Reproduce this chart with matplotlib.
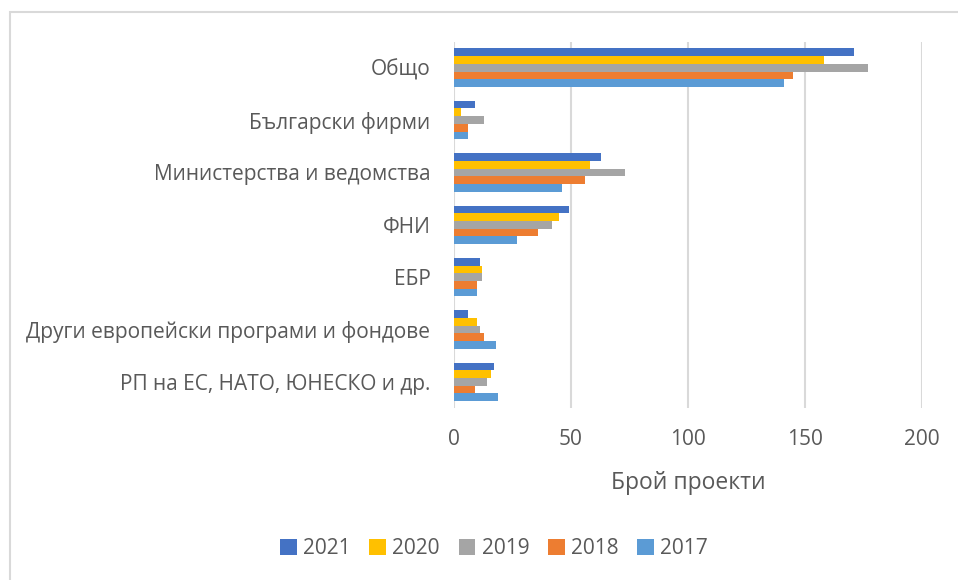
import matplotlib
matplotlib.use("Agg")
import matplotlib.pyplot as plt
import numpy as np
from matplotlib.patches import Rectangle, Patch

categories = ["Общо", "Български фирми", "Министерства и ведомства", "ФНИ", "ЕБР",
              "Други европейски програми и фондове", "РП на ЕС, НАТО, ЮНЕСКО и др."]
years = ["2021", "2020", "2019", "2018", "2017"]
v2021 = [171, 9, 63, 49, 11, 6, 17]
v2020 = [158, 3, 58, 45, 12, 10, 16]
v2019 = [177, 13, 73, 42, 12, 11, 14]
v2018 = [145, 6, 56, 36, 10, 13, 9]
v2017 = [141, 6, 46, 27, 10, 18, 19]
series = [v2021, v2020, v2019, v2018, v2017]
colors = ["#4472C4", "#FFC000", "#A5A5A5", "#ED7D31", "#5B9BD5"]
xticks = [0, 50, 100, 150, 200]

plt.rcParams['font.family'] = ['Open Sans', 'DejaVu Sans']
txt = "#595959"

fig = plt.figure(figsize=(9.58, 5.8), dpi=100)
ax = fig.add_axes([454/958, 1-408/580, (922-454)/958, (408-41.5)/580])

n = len(categories)
ypos = np.arange(n)
bh = 0.147
for i, (vals, c) in enumerate(zip(series, colors)):
    off = (i - 2) * bh
    ax.barh(ypos + off, vals, height=bh, color=c, zorder=3, label=years[i])

ax.set_ylim(n - 0.5, -0.5)
ax.set_xlim(0, 200)
ax.set_xticks(xticks)
ax.set_xticklabels([str(t) for t in xticks], fontsize=15, color=txt)
ax.set_yticks(ypos)
ax.set_yticklabels(categories, fontsize=15, color=txt)
ax.tick_params(axis='both', length=0)
ax.tick_params(axis='x', pad=15)
ax.tick_params(axis='y', pad=17)
ax.grid(axis='x', color='#d9d9d9', linewidth=1.5, zorder=0)
for s in ax.spines.values():
    s.set_visible(False)
ax.set_xlabel("Брой проекти", fontsize=16.5, color=txt, labelpad=15)

handles = [Patch(facecolor=c, label=y) for y, c in zip(years, colors)]
fig.legend(handles=handles, loc='center', bbox_to_anchor=(494/958, 1-549/580), ncol=5,
           frameon=False, fontsize=15, labelcolor=txt, handlelength=0.8, handleheight=0.8,
           handletextpad=0.3, columnspacing=0.9)

fig.patches.append(Rectangle((9.5/958, -0.1), 1.2, 1 - 11.5/580 + 0.1, transform=fig.transFigure,
                             fill=False, edgecolor='#d9d9d9', linewidth=1.5))

fig.savefig("out.png", dpi=100)
